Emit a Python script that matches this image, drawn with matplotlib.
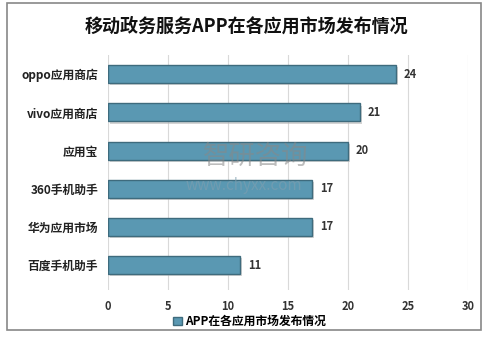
import matplotlib
matplotlib.use("Agg")
import matplotlib.pyplot as plt
from matplotlib.patches import Rectangle
import numpy as np

plt.rcParams["font.family"] = ["Noto Sans CJK SC", "DejaVu Sans"]

# === Data ===
categories = ["oppo应用商店", "vivo应用商店", "应用宝", "360手机助手", "华为应用市场", "百度手机助手"]
values = [24, 21, 20, 17, 17, 11]
series_name = "APP在各应用市场发布情况"
title = "移动政务服务APP在各应用市场发布情况"
xticks = [0, 5, 10, 15, 20, 25, 30]

BAR_COLOR = "#5a98b2"
EDGE_COLOR = "#3e6b7d"

fig = plt.figure(figsize=(4.88, 3.44), dpi=100)
ax = fig.add_axes([0.221, 0.157, 0.738, 0.683])

y = np.arange(len(categories))

# soft shadow behind the bars
ax.barh(y + 0.06, values, height=0.47, left=0.15, color="#b8b8b8", alpha=0.6, zorder=2)
bars = ax.barh(y, values, height=0.47, color=BAR_COLOR, edgecolor=EDGE_COLOR,
               linewidth=1.0, label=series_name, zorder=3)

for yi, v in zip(y, values):
    ax.text(v + 0.65, yi, f"{v}", va="center", ha="left", fontsize=8,
            fontweight="bold", color="#333333", zorder=4)

ax.set_xlim(0, 30)
ax.set_ylim(len(categories) - 0.35, -0.5)
ax.set_xticks(xticks)
ax.set_xticklabels([str(t) for t in xticks], fontsize=8, fontweight="bold", color="#333333")
ax.set_yticks(y)
ax.set_yticklabels(categories, fontsize=8.5, fontweight="bold", color="#222222")
ax.tick_params(axis="x", length=0, pad=7)
ax.tick_params(axis="y", length=0, pad=7)

for s in ax.spines.values():
    s.set_visible(False)
ax.grid(True, axis="x", color="#d9d9d9", linewidth=0.8, zorder=0)
ax.set_axisbelow(True)

fig.text(0.505, 0.925, title, ha="center", va="center", fontsize=13,
         fontweight="bold", color="#111111")

# watermark
fig.text(0.525, 0.545, "智研咨询", ha="center", va="center", fontsize=19,
         color="#888888", alpha=0.55, zorder=10)
fig.text(0.50, 0.462, "www.chyxx.com", ha="center", va="center", fontsize=11,
         color="#7f9fb0", alpha=0.6, zorder=10)

ax.legend(handles=[bars], labels=[series_name], loc="center",
          bbox_to_anchor=(0.394, -0.135), frameon=False,
          handlelength=0.7, handleheight=0.7, handletextpad=0.3,
          prop={"weight": "bold", "size": 8.5})

# outer frame
fig.patches.append(Rectangle((7 / 488, 1 - 330 / 344), 474 / 488, 327 / 344,
                             transform=fig.transFigure, fill=False,
                             edgecolor="#888888", linewidth=1.2))

fig.savefig("out.png", dpi=100)
plt.close(fig)
